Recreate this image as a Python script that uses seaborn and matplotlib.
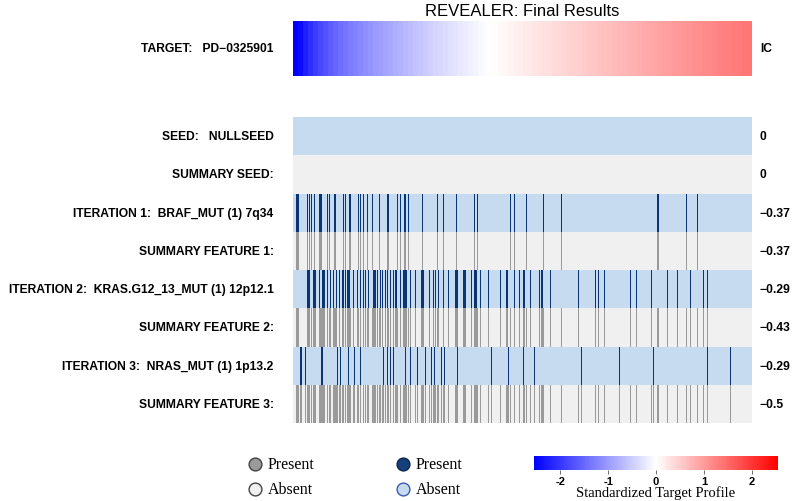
import numpy as np
import matplotlib
matplotlib.use("Agg")
import matplotlib.pyplot as plt
from matplotlib.colors import ListedColormap
import seaborn as sns

# Samples are sorted by the target profile (left = most negative)
N_SAMPLES = 459

# Standardized target profile, read every ~5 samples along the row
target_profile = [-2.7, -2.45, -2.25, -2.08, -1.94, -1.82, -1.72, -1.62, -1.53, -1.45,
                  -1.38, -1.31, -1.24, -1.18, -1.12, -1.06, -1.01, -0.96, -0.91, -0.86,
                  -0.81, -0.76, -0.71, -0.66, -0.61, -0.56, -0.52, -0.47, -0.43, -0.39,
                  -0.35, -0.31, -0.27, -0.23, -0.19, -0.15, -0.11, -0.07, -0.03, 0.0,
                  0.03, 0.06, 0.09, 0.11, 0.14, 0.17, 0.2, 0.22, 0.25, 0.28,
                  0.3, 0.33, 0.36, 0.38, 0.41, 0.44, 0.46, 0.49, 0.52, 0.54,
                  0.57, 0.6, 0.62, 0.65, 0.68, 0.7, 0.73, 0.76, 0.78, 0.81,
                  0.84, 0.86, 0.89, 0.92, 0.94, 0.97, 1.0, 1.02, 1.05, 1.08,
                  1.1, 1.13, 1.16, 1.18, 1.21, 1.24, 1.26, 1.29, 1.31, 1.33,
                  1.35, 1.37]

# sample indices where each selected feature is present
iter1_present = [3, 4, 5, 14, 16, 18, 21, 26, 27, 28, 34, 36, 41, 42, 50, 52, 56, 57,
                 65, 67, 70, 74, 79, 86, 94, 95, 104, 107, 111, 112, 115, 129, 144,
                 150, 163, 181, 184, 217, 221, 233, 250, 268, 364, 365, 393, 404]
iter2_present = [14, 15, 16, 20, 21, 22, 26, 29, 30, 31, 34, 37, 40, 43, 46, 49, 50, 52,
                 54, 55, 56, 60, 64, 67, 70, 72, 75, 80, 81, 82, 84, 87, 89, 92, 94, 97,
                 100, 102, 103, 107, 110, 111, 112, 113, 117, 122, 128, 129, 130, 136,
                 140, 142, 145, 150, 155, 162, 163, 164, 170, 171, 172, 178, 181, 182,
                 183, 187, 195, 207, 213, 214, 221, 226, 230, 231, 237, 246, 248, 249,
                 257, 285, 302, 305, 311, 337, 343, 358, 374, 384, 397, 410, 414]
iter3_present = [7, 8, 12, 28, 29, 44, 47, 55, 61, 67, 90, 94, 97, 100, 112, 117, 124,
                 132, 138, 141, 148, 151, 164, 198, 215, 230, 241, 288, 326, 360, 414, 437]

row_labels = ["SEED:   NULLSEED", "SUMMARY SEED:",
              "ITERATION 1:  BRAF_MUT (1) 7q34", "SUMMARY FEATURE 1:",
              "ITERATION 2:  KRAS.G12_13_MUT (1) 12p12.1", "SUMMARY FEATURE 2:",
              "ITERATION 3:  NRAS_MUT (1) 1p13.2", "SUMMARY FEATURE 3:"]
ic_values = ["0", "0", "\u22120.37", "\u22120.37", "\u22120.29", "\u22120.43", "\u22120.29", "\u22120.5"]
target_name = "TARGET:   PD\u22120325901"

LABEL_FONT = ["Liberation Sans", "DejaVu Sans"]
SERIF_FONT = ["Liberation Serif", "DejaVu Serif"]

BLUE_ABS, BLUE_PRES = "#c6dbef", "#0b3473"
GRAY_ABS, GRAY_PRES = "#f0f0f0", "#9a9a9a"
LAB_SIZE = 8.7


def binary_row(idx):
    row = np.zeros(N_SAMPLES, dtype=int)
    row[idx] = 1
    return row


seed = np.zeros(N_SAMPLES, dtype=int)
it1, it2, it3 = binary_row(iter1_present), binary_row(iter2_present), binary_row(iter3_present)
# summary rows are the running union of the selected features
sum0 = seed
sum1 = np.maximum(sum0, it1)
sum2 = np.maximum(sum1, it2)
sum3 = np.maximum(sum2, it3)

# code: 0/1 = blue absent/present, 2/3 = gray absent/present
codes = np.vstack([seed, sum0 + 2, it1, sum1 + 2, it2, sum2 + 2, it3, sum3 + 2])

sns.set_theme(style="white")
plt.rcParams["font.family"] = LABEL_FONT
plt.rcParams["text.color"] = "black"
plt.rcParams["xtick.color"] = "black"
plt.rcParams["ytick.color"] = "black"
plt.rcParams["axes.labelcolor"] = "black"
plt.rcParams["axes.unicode_minus"] = False

fig = plt.figure(figsize=(8, 5.02), dpi=100)
W, H = 800.0, 502.0
x0, x1 = 293, 752
ax_t = fig.add_axes([x0 / W, 1 - 77 / H, (x1 - x0) / W, 55 / H])
ax_f = fig.add_axes([x0 / W, 1 - 424 / H, (x1 - x0) / W, 306 / H])
ax_cb = fig.add_axes([534 / W, 1 - 471 / H, 244 / W, 14 / H])

sns.heatmap(np.array([target_profile]), ax=ax_t, cmap="bwr", vmin=-2.55, vmax=2.55,
            cbar_ax=ax_cb, cbar_kws={"orientation": "horizontal", "ticks": [-2, -1, 0, 1, 2]},
            xticklabels=False, yticklabels=[target_name])
sns.heatmap(codes, ax=ax_f, cmap=ListedColormap([BLUE_ABS, BLUE_PRES, GRAY_ABS, GRAY_PRES]),
            vmin=-0.5, vmax=3.5, cbar=False, xticklabels=False, yticklabels=row_labels)

for ax in (ax_t, ax_f):
    ax.tick_params(axis="y", length=0, pad=14, labelsize=LAB_SIZE, labelrotation=0,
                   labelcolor="black")
    for lab in ax.get_yticklabels():
        lab.set_fontweight("bold")

# IC column on the right
ax_t.text(1.017, 0.5, "IC", transform=ax_t.transAxes, va="center", ha="left",
          fontsize=LAB_SIZE, fontweight="bold")
for i, v in enumerate(ic_values):
    ax_f.text(1.017, i + 0.5, v, transform=ax_f.get_yaxis_transform(), va="center",
              ha="left", fontsize=LAB_SIZE, fontweight="bold")

ax_t.set_title("REVEALER: Final Results", fontsize=12, pad=4, color="black")

# colorbar styling
ax_cb.tick_params(axis="x", length=3, width=0.6, pad=1, labelsize=8, color="#555555",
                  labelcolor="black")
for lab in ax_cb.get_xticklabels():
    lab.set_fontweight("bold")
ax_cb.set_xlabel("Standardized Target Profile", fontsize=10.5, family=SERIF_FONT, labelpad=0)
for s in ax_cb.spines.values():
    s.set_visible(False)

# legend in pixel coordinates
ax_leg = fig.add_axes([0, 0, 1, 1], zorder=-1)
ax_leg.set_xlim(0, W)
ax_leg.set_ylim(H, 0)
ax_leg.axis("off")
legend_items = [(255, 465, GRAY_PRES, "#444444", "Present"),
                (255, 490, GRAY_ABS, "#444444", "Absent"),
                (403, 465, "#173f7c", "#0a2550", "Present"),
                (403, 490, BLUE_ABS, "#3b5bb5", "Absent")]
for lx, ly, fc, ec, txt in legend_items:
    ax_leg.scatter([lx], [ly], s=85, color=fc, edgecolor=ec, linewidth=1.0)
    ax_leg.text(lx + 13, ly, txt, va="center", ha="left", fontsize=11.5, family=SERIF_FONT)

fig.savefig("out.png", dpi=100)
